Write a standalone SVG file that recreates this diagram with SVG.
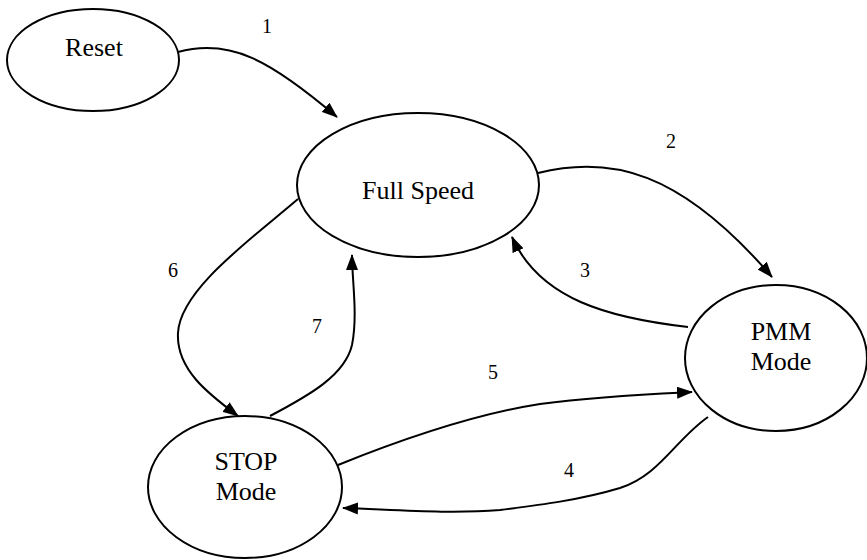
<svg xmlns="http://www.w3.org/2000/svg" width="867" height="560" viewBox="0 0 867 560">
<defs>
<style>
.node ellipse{fill:#fff;stroke:#000;stroke-width:2}
.node text{font-size:26px;fill:#000;text-anchor:middle}
.edge path{fill:none;stroke:#000;stroke-width:2;marker-end:url(#ah)}
.lbl{font-size:20px;fill:#000;text-anchor:middle}
</style>
<marker id="ah" viewBox="0 0 16 12" refX="15" refY="6" markerWidth="16" markerHeight="12" orient="auto" markerUnits="userSpaceOnUse"><path d="M0,0 L16,6 L0,12 z" fill="#000"/></marker>
</defs>
<rect width="867" height="560" fill="#fff"/>
<g id="connectors" class="edge">
<path id="e1" d="M178,52 C230,38 270,60 337,117"/>
<path id="e2" d="M538,173 C610,155 680,170 772,277"/>
<path id="e3" d="M688,327 C610,318 540,300 512,237"/>
<path id="e4" d="M708,417 C675,440 660,475 620,488 C580,500 540,505 500,510 C450,514 400,510 343,508"/>
<path id="e5" d="M338,465 C400,440 470,415 540,404 C600,396 650,394 692,392"/>
<path id="e6" d="M298,199 C250,240 180,290 178,333 C176,370 210,395 238,416"/>
<path id="e7" d="M270,416 C310,395 345,375 352,345 C358,315 352,280 352,255"/>
</g>
<g id="labels" font-family="Liberation Serif, DejaVu Serif, serif">
<text class="lbl" x="267" y="33">1</text>
<text class="lbl" x="671" y="148">2</text>
<text class="lbl" x="585" y="277">3</text>
<text class="lbl" x="569" y="477">4</text>
<text class="lbl" x="493" y="379">5</text>
<text class="lbl" x="173" y="277">6</text>
<text class="lbl" x="317" y="333">7</text>
</g>
<g id="reset" class="node" font-family="Liberation Serif, DejaVu Serif, serif">
<ellipse cx="93" cy="60" rx="86" ry="51"/>
<text x="94" y="56">Reset</text>
</g>
<g id="fullspeed" class="node" font-family="Liberation Serif, DejaVu Serif, serif">
<ellipse cx="418" cy="185" rx="121" ry="72"/>
<text x="418" y="199">Full Speed</text>
</g>
<g id="pmm" class="node" font-family="Liberation Serif, DejaVu Serif, serif">
<ellipse cx="776" cy="358" rx="91" ry="73"/>
<text x="781" y="340">PMM</text>
<text x="781" y="370">Mode</text>
</g>
<g id="stop" class="node" font-family="Liberation Serif, DejaVu Serif, serif">
<ellipse cx="245" cy="487" rx="97" ry="71"/>
<text x="246" y="470">STOP</text>
<text x="246" y="500">Mode</text>
</g>
</svg>
